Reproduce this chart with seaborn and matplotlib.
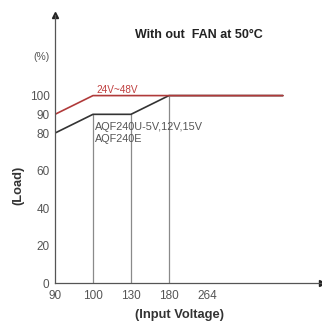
import matplotlib
matplotlib.use("Agg")
import matplotlib.pyplot as plt
import pandas as pd
import seaborn as sns

# category positions on the x axis (equally spaced, not to scale)
x_labels = ["90", "100", "130", "180", "264"]
y_ticks = [0, 20, 40, 60, 80, 90, 100]

# derating curves: x is category index, y is load %
red_x = [0, 1, 6]
red_y = [90, 100, 100]
black_x = [0, 1, 2, 3, 6]
black_y = [80, 90, 90, 100, 100]

# guide lines at the break points of the black curve
guide_x = [1, 2, 3]
guide_top = [90, 90, 100]

sns.set_style("white")
plt.rcParams["font.family"] = ["Liberation Sans", "DejaVu Sans"]

fig = plt.figure(figsize=(3.22, 3.24), dpi=100)
ax = fig.add_axes([55 / 322, 41 / 324, 267 / 322, 268 / 324])

ax.vlines(guide_x, 0, guide_top, color="#8a8a8a", lw=0.9)

df_black = pd.DataFrame({"x": black_x, "y": black_y})
df_red = pd.DataFrame({"x": red_x, "y": red_y})
sns.lineplot(data=df_black, x="x", y="y", ax=ax, color="#333333", lw=1.2, sort=False)
sns.lineplot(data=df_red, x="x", y="y", ax=ax, color="#b03a3a", lw=1.2, sort=False)

ax.set_xlim(0, 7.03)
ax.set_ylim(0, 143)
ax.set_xticks(range(len(x_labels)))
ax.set_xticklabels(x_labels)
ax.set_yticks(y_ticks)
ax.tick_params(length=0, labelsize=8.5, colors="#555555")
ax.tick_params(axis="x", pad=5)
ax.tick_params(axis="y", pad=4)
ax.set_xlabel("")
ax.set_ylabel("")

for s in ["top", "right"]:
    ax.spines[s].set_visible(False)
for s in ["left", "bottom"]:
    ax.spines[s].set_color("#555555")
    ax.spines[s].set_linewidth(0.9)

# arrow heads on the axes
ax.plot(1, 0, ">", color="#222222", ms=5, transform=ax.transAxes, clip_on=False)
ax.plot(0, 1, "^", color="#222222", ms=5, transform=ax.transAxes, clip_on=False)

ax.text(1.1, 101.5, "24V~48V", color="#c04040", fontsize=7.2)
ax.text(1.05, 86, "AQF240U-5V,12V,15V", color="#555555", fontsize=7.8, va="top")
ax.text(1.05, 79.5, "AQF240E", color="#555555", fontsize=7.8, va="top")

fig.text(135 / 322, 1 - 35 / 324, "With out  FAN at 50\u00b0C", fontsize=9,
         fontweight="bold", color="#222222", va="center")
fig.text(33 / 322, 1 - 57 / 324, "(%)", fontsize=7.5, color="#555555", va="center")
fig.text(18 / 322, 1 - 185 / 324, "(Load)", fontsize=9.3, fontweight="bold",
         color="#333333", rotation=90, va="center", ha="center")
fig.text(180 / 322, 1 - 315 / 324, "(Input Voltage)", fontsize=9.3,
         fontweight="bold", color="#333333", va="center", ha="center")

fig.savefig("out.png", dpi=100)
